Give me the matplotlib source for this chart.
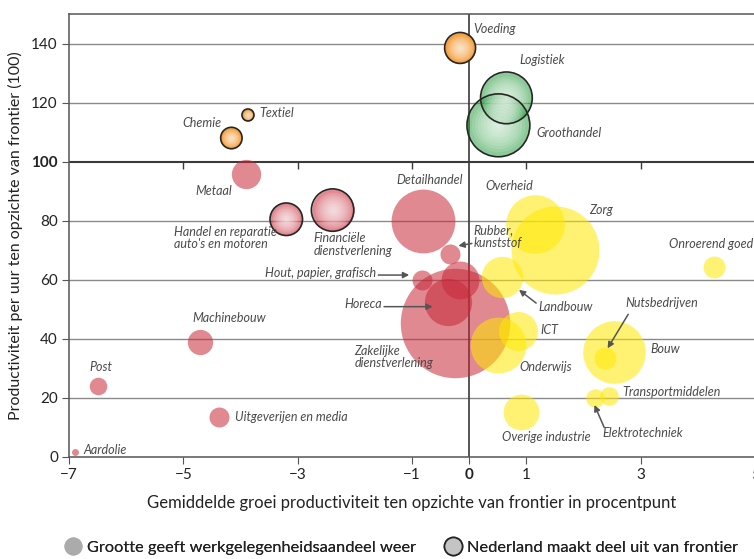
import matplotlib.pyplot as plt
from matplotlib.lines import Line2D
import numpy as np

# sector data
sectoren = ["Voeding", "Textiel", "Chemie", "Logistiek", "Groothandel", "Metaal",
            "Handel en reparatie\nauto's en motoren", "Financiële\ndienstverlening",
            "Detailhandel", "Rubber,\nkunststof", "Hout, papier, grafisch", "", "Horeca",
            "Zakelijke\ndienstverlening", "Overheid", "Zorg", "Landbouw", "ICT", "Onderwijs",
            "Onroerend goed", "Bouw", "Nutsbedrijven", "Transportmiddelen", "Elektrotechniek",
            "Overige industrie", "Machinebouw", "Post", "Uitgeverijen en media", "Aardolie"]
groei = [-0.16, -3.87, -4.16, 0.65, 0.51, -3.90, -3.20, -2.39, -0.80, -0.33, -0.82, -0.16,
         -0.37, -0.25, 1.15, 1.50, 0.57, 0.85, 0.50, 4.28, 2.54, 2.37, 2.44, 2.20, 0.91,
         -4.71, -6.49, -4.37, -6.89]
productiviteit = [138.5, 115.8, 108, 121.6, 112.3, 95.8, 80.5, 83.6, 80, 68.8, 60, 60,
                  52.4, 45.2, 78.9, 70, 60.8, 42.8, 38, 64.2, 35.4, 33.5, 20.7, 19.9, 15.4,
                  38.9, 24.2, 13.6, 1.7]
aandeel = [2.4, 0.36, 1.15, 6.7, 9.9, 2.15, 2.65, 4.5, 10.2, 1.0, 1.0, 3.6, 5.6, 30,
           8.6, 19.4, 4.3, 3.8, 7.8, 1.2, 9.8, 1.2, 0.86, 0.85, 3.2, 1.6, 0.77, 1.0, 0.12]
frontier = ["Voeding", "Textiel", "Chemie", "Logistiek", "Groothandel",
            "Handel en reparatie\nauto's en motoren", "Financiële\ndienstverlening"]

x_ticks = [-7, -5, -3, -1, 0, 1, 3, 5]
y_ticks = [0, 20, 40, 60, 80, 100, 120, 140]

SIZE_SCALE = 207  # points^2 per share unit


def kwadrant_kleur(x, y):
    if y >= 100:
        return ('#F5A040', 1.0) if x < 0 else ('#2EA043', 0.55)
    return ('#C82838', 0.55) if x < 0 else ('#FFE800', 0.55)


plt.rcParams['font.family'] = ['Lato', 'DejaVu Sans']

fig = plt.figure(figsize=(7.54, 5.59), dpi=100)
ax = fig.add_axes([0.0915, 0.1825, 0.91, 0.7925])

for y in [20, 40, 60, 80, 120, 140]:
    ax.axhline(y, color='#8a8a8a', lw=1.0, zorder=0)
ax.axhline(100, color='#3a3a3a', lw=1.5, zorder=0)
ax.axvline(0, color='#3a3a3a', lw=1.2, zorder=0)
# small tick marks along the 100 line
ax.plot([-5, -3, -1, 1, 3], [100] * 5, ls='', marker=3, ms=5, color='#3a3a3a', mew=1, zorder=0)

for naam, x, y, a in zip(sectoren, groei, productiviteit, aandeel):
    kleur, alpha = kwadrant_kleur(x, y)
    s = a * SIZE_SCALE
    if naam in frontier:
        ax.scatter(x, y, s=s, color=kleur, alpha=alpha, lw=0, zorder=2)
        for k in np.linspace(0.85, 0.08, 9):
            ax.scatter(x, y, s=s * k ** 2, color='white', alpha=0.13, lw=0, zorder=3)
        ax.scatter(x, y, s=s, facecolor='none', edgecolor='#262626', lw=1.2, zorder=4)
    else:
        ax.scatter(x, y, s=s, color=kleur, alpha=alpha, lw=0, zorder=2)

# label placements (text position, alignment, optional arrow target)
labels = {
    "Voeding": (0.07, 145, 'left', None),
    "Logistiek": (0.87, 134.4, 'left', None),
    "Groothandel": (1.17, 109.8, 'left', None),
    "Textiel": (-3.68, 116.6, 'left', None),
    "Chemie": (-4.33, 113.2, 'right', None),
    "Metaal": (-4.14, 90.2, 'right', None),
    "Handel en reparatie\nauto's en motoren": (-5.17, 74.2, 'left', None),
    "Financiële\ndienstverlening": (-2.72, 71.9, 'left', None),
    "Detailhandel": (-0.70, 93.8, 'center', None),
    "Rubber,\nkunststof": (0.075, 74.6, 'left', (-0.19, 71.5)),
    "Hout, papier, grafisch": (-1.63, 62.4, 'right', (-1.05, 61.6)),
    "Horeca": (-1.53, 51.7, 'right', (-0.64, 50.9)),
    "Zakelijke\ndienstverlening": (-2.01, 33.9, 'left', None),
    "Overheid": (0.28, 91.8, 'left', None),
    "Zorg": (2.09, 83.6, 'left', None),
    "Onroerend goed": (4.96, 72.1, 'right', None),
    "Landbouw": (1.21, 50.9, 'left', (0.87, 56.6)),
    "ICT": (1.25, 43.0, 'left', None),
    "Onderwijs": (0.87, 30.4, 'left', None),
    "Nutsbedrijven": (2.73, 52.3, 'left', (2.42, 36.8)),
    "Bouw": (3.16, 36.6, 'left', None),
    "Transportmiddelen": (2.68, 22.1, 'left', None),
    "Elektrotechniek": (2.33, 8.0, 'left', (2.19, 17.6)),
    "Overige industrie": (0.58, 6.9, 'left', None),
    "Machinebouw": (-4.85, 47.2, 'left', None),
    "Post": (-6.64, 30.4, 'left', None),
    "Uitgeverijen en media": (-4.09, 13.4, 'left', None),
    "Aardolie": (-6.75, 2.4, 'left', None),
}
for naam, (tx, ty, ha, doel) in labels.items():
    ax.text(tx, ty, naam, ha=ha, va='center', fontsize=9, style='italic',
            color='#4a4a4a', linespacing=1.05, zorder=5)
    if doel is not None:
        if ha == 'right':
            start = (tx + 0.04, doel[1])
        elif naam == "Nutsbedrijven":
            start = (tx + 0.05, ty - 4)
        elif naam == "Elektrotechniek":
            start = (tx + 0.03, ty + 2)
        elif naam == "Landbouw":
            start = (tx - 0.04, ty + 1.2)
        else:
            start = (tx - 0.03, ty - 2.3)
        ax.annotate('', xy=doel, xytext=start,
                    arrowprops=dict(arrowstyle='-|>', color='#555555', lw=1.1,
                                    mutation_scale=9, shrinkA=0, shrinkB=0), zorder=5)

ax.set_xlim(-7, 5)
ax.set_ylim(0, 150)
ax.set_xticks(x_ticks)
ax.set_xticklabels(['\u22127', '\u22125', '\u22123', '\u22121', '0', '1', '3', '5'])
ax.set_yticks(y_ticks)
ax.set_yticklabels([str(v) for v in y_ticks])
ax.tick_params(axis='both', direction='out', length=5, color='#555555', labelsize=11,
               labelcolor='#222222', pad=3)
for lab in ax.get_xticklabels():
    if lab.get_text() == '0':
        lab.set_fontweight('bold')
for lab in ax.get_yticklabels():
    if lab.get_text() == '100':
        lab.set_fontweight('bold')

for side in ['left', 'bottom', 'top']:
    ax.spines[side].set_color('#555555')
    ax.spines[side].set_linewidth(1.1)
ax.spines['right'].set_visible(False)

ax.set_xlabel('Gemiddelde groei productiviteit ten opzichte van frontier in procentpunt',
              fontsize=12, color='#222222', labelpad=9)
ax.set_ylabel('Productiviteit per uur ten opzichte van frontier (100)',
              fontsize=11.5, color='#222222', labelpad=6)

leg_items = [
    (Line2D([], [], marker='o', ls='', ms=13, mfc='#ababab', mec='none'),
     'Grootte geeft werkgelegenheidsaandeel weer', 0.085),
    (Line2D([], [], marker='o', ls='', ms=13, mfc='#c4c4c4', mec='#222222', mew=1.2),
     'Nederland maakt deel uit van frontier', 0.589),
]
for handle, tekst, lx in leg_items:
    leg = fig.legend([handle], [tekst], loc='center left', bbox_to_anchor=(lx, 0.02),
                     frameon=False, fontsize=11.8, handlelength=1.1, handletextpad=0.3,
                     borderpad=0, borderaxespad=0, labelcolor='#222222')
    fig.add_artist(leg)

fig.savefig('out.png', dpi=100)
